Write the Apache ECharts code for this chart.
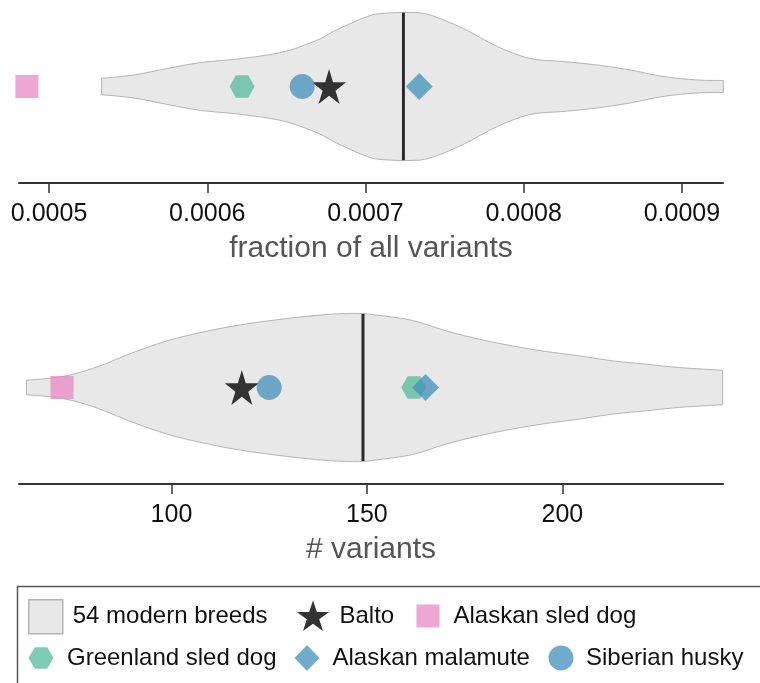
<!DOCTYPE html>
<html>
<head>
<meta charset="utf-8">
<script src="https://cdn.jsdelivr.net/npm/echarts@6/dist/echarts.min.js"></script>
<style>
  html, body { margin: 0; padding: 0; background: #fff; }
  #chart { width: 760px; height: 683px; }
</style>
</head>
<body>
<div id="chart"></div>
<script>
// Violin outline of the 54 modern breeds: fraction of all variants
const fractionGrid = [0.0005332, 0.0005534, 0.0005748, 0.0005957, 0.0006165, 0.0006380, 0.0006525,
  0.0006696, 0.0006797, 0.0006904, 0.0007011, 0.0007094, 0.0007283, 0.0007409, 0.0007618,
  0.0007833, 0.0008041, 0.0008249, 0.0008464, 0.0008673, 0.0008881, 0.0009096, 0.0009262];
const fractionDensity = [0.111, 0.155, 0.243, 0.324, 0.365, 0.426, 0.493,
  0.628, 0.743, 0.851, 0.946, 0.986, 1.0, 0.966, 0.784,
  0.541, 0.378, 0.338, 0.291, 0.223, 0.135, 0.088, 0.081];
const fractionMedian = 0.000724;
const fractionTicks = [0.0005, 0.0006, 0.0007, 0.0008, 0.0009];
const fractionRange = [0.000481, 0.000926];

// Violin outline of the 54 modern breeds: number of variants
const countGrid = [62.9, 68.9, 74.8, 81.7, 90.1, 98.8, 107.2, 115.7, 124.4, 132.8, 141.3, 148.2,
  153.3, 161.7, 170.4, 178.9, 187.3, 196.0, 204.4, 212.9, 221.6, 230.0, 241.0];
const countDensity = [0.098, 0.125, 0.179, 0.292, 0.471, 0.629, 0.740, 0.830, 0.898, 0.952, 0.992, 1.0,
  0.973, 0.906, 0.763, 0.650, 0.561, 0.485, 0.427, 0.359, 0.314, 0.269, 0.233];
const countMedian = 149;
const countTicks = [100, 150, 200];
const countRange = [61, 241.1];

// Individual dogs
const breedLabel = '54 modern breeds';
const dogNames = ['Alaskan sled dog', 'Greenland sled dog', 'Balto', 'Alaskan malamute', 'Siberian husky'];
const dogFraction = [0.000486, 0.000622, 0.000677, 0.000734, 0.000660];
const dogCount = [72, 162, 118, 165, 125];

const FONT = '"Liberation Sans", Arial, Helvetica, sans-serif';
const HALF = 0.967;   // violin half-width at peak density, in y-axis units

function starPath(cx, cy, R) {
  const r = R * 0.382;
  let d = '';
  for (let k = 0; k < 10; k++) {
    const a = -Math.PI / 2 + k * Math.PI / 5;
    const rad = k % 2 === 0 ? R : r;
    d += (k === 0 ? 'M' : 'L') + (cx + rad * Math.cos(a)).toFixed(2) + ',' + (cy + rad * Math.sin(a)).toFixed(2);
  }
  return d + 'Z';
}
function hexPath(cx, cy, R) {
  let d = '';
  for (let k = 0; k < 6; k++) {
    const a = k * Math.PI / 3;
    d += (k === 0 ? 'M' : 'L') + (cx + R * Math.cos(a)).toFixed(2) + ',' + (cy + R * Math.sin(a)).toFixed(2);
  }
  return d + 'Z';
}
// legend icons live inside a fixed 34x34 frame so each keeps its own size
const FRAME = 'M0,0M34,34';
const legendIcons = {
  'Balto': 'path://' + FRAME + starPath(17, 18.2, 17),
  'Alaskan sled dog': 'path://' + FRAME + 'M5.5,5.5L28.5,5.5L28.5,28.5L5.5,28.5Z',
  'Greenland sled dog': 'path://' + FRAME + hexPath(17, 17, 12.5),
  'Alaskan malamute': 'path://' + FRAME + 'M17,4L29.5,17L17,30L4.5,17Z',
  'Siberian husky': 'path://' + FRAME + 'M29.5,17A12.5,12.5,0,1,1,4.5,17A12.5,12.5,0,1,1,29.5,17Z'
};

const dogStyle = {
  'Alaskan sled dog':   { symbol: 'rect', size: [23, 23], color: '#e78ac3', opacity: 0.75 },
  'Greenland sled dog': { symbol: 'path://' + hexPath(0, 0, 1), size: [25, 22.5], color: '#5bbd9d', opacity: 0.78 },
  'Balto':              { symbol: 'path://' + starPath(0, 0, 1), size: [34, 35], color: '#333333', opacity: 1 },
  'Alaskan malamute':   { symbol: 'diamond', size: [27, 27], color: '#4390bb', opacity: 0.75 },
  'Siberian husky':     { symbol: 'circle', size: 25, color: '#4390bb', opacity: 0.75 }
};

function densityAt(grid, dens, v) {
  for (let i = 1; i < grid.length; i++) {
    if (v <= grid[i]) {
      const t = (v - grid[i - 1]) / (grid[i] - grid[i - 1]);
      return dens[i - 1] + t * (dens[i] - dens[i - 1]);
    }
  }
  return dens[dens.length - 1];
}

// smooth curve through the points (Catmull-Rom as cubic Bezier segments)
function curveThrough(pts, start) {
  let d = start ? 'M' + pts[0][0] + ',' + pts[0][1] : 'L' + pts[0][0] + ',' + pts[0][1];
  for (let i = 0; i < pts.length - 1; i++) {
    const p0 = pts[Math.max(i - 1, 0)], p1 = pts[i], p2 = pts[i + 1], p3 = pts[Math.min(i + 2, pts.length - 1)];
    const c1 = [p1[0] + (p2[0] - p0[0]) / 6, p1[1] + (p2[1] - p0[1]) / 6];
    const c2 = [p2[0] - (p3[0] - p1[0]) / 6, p2[1] - (p3[1] - p1[1]) / 6];
    d += 'C' + c1[0] + ',' + c1[1] + ',' + c2[0] + ',' + c2[1] + ',' + p2[0] + ',' + p2[1];
  }
  return d;
}

function violinRenderer(grid, dens, median) {
  return function (params, api) {
    const upper = grid.map((v, i) => api.coord([v, dens[i] * HALF]));
    const lower = grid.map((v, i) => api.coord([v, -dens[i] * HALF])).reverse();
    const outline = curveThrough(upper, true) + curveThrough(lower, false) + 'Z';
    const dm = densityAt(grid, dens, median) * HALF;
    const a = api.coord([median, dm]);
    const b = api.coord([median, -dm]);
    return {
      type: 'group',
      children: [
        { type: 'path', shape: { pathData: outline },
          style: { fill: '#e8e8e8', stroke: '#b4b4b4', lineWidth: 1 } },
        { type: 'line', shape: { x1: a[0], y1: a[1], x2: b[0], y2: b[1] },
          style: { stroke: '#2a2a2a', lineWidth: 3 } }
      ]
    };
  };
}

function makeXAxis(idx, range, ticks, name, fmt) {
  return {
    type: 'value', gridIndex: idx, min: range[0], max: range[1],
    name: name, nameLocation: 'middle', nameGap: 51,
    nameTextStyle: { fontSize: 30, color: '#555', fontFamily: FONT },
    axisLine: { show: true, onZero: false, lineStyle: { color: '#333', width: 2 } },
    axisTick: { show: true, length: 10, customValues: ticks, lineStyle: { color: '#333', width: 1.5 } },
    axisLabel: { fontSize: 25, color: '#111', margin: 19, fontFamily: FONT, customValues: ticks, formatter: fmt },
    splitLine: { show: false }
  };
}
function makeYAxis(idx) {
  return { type: 'value', gridIndex: idx, min: -1.262, max: 1, show: false, splitLine: { show: false } };
}

const series = [
  { type: 'custom', name: breedLabel, xAxisIndex: 0, yAxisIndex: 0, data: [[fractionMedian, 0]],
    encode: { x: 0, y: 1 }, renderItem: violinRenderer(fractionGrid, fractionDensity, fractionMedian),
    itemStyle: { color: '#e8e8e8' }, silent: true },
  { type: 'custom', name: breedLabel, xAxisIndex: 1, yAxisIndex: 1, data: [[countMedian, 0]],
    encode: { x: 0, y: 1 }, renderItem: violinRenderer(countGrid, countDensity, countMedian),
    itemStyle: { color: '#e8e8e8' }, silent: true }
];
[dogFraction, dogCount].forEach((vals, p) => {
  dogNames.forEach((name, i) => {
    const s = dogStyle[name];
    series.push({
      type: 'scatter', name: name, xAxisIndex: p, yAxisIndex: p,
      data: [[vals[i], 0]], symbol: s.symbol, symbolSize: s.size,
      itemStyle: { color: s.color, opacity: s.opacity }, emphasis: { disabled: true }, z: 3
    });
  });
});

function legendItem(name, left, top, width, icon, style) {
  return {
    left: left, top: top, padding: 0, itemWidth: width, itemHeight: 34, selectedMode: false,
    symbolKeepAspect: true,
    textStyle: { fontSize: 24, color: '#111', fontFamily: FONT },
    data: [{ name: name, icon: icon, itemStyle: style }]
  };
}
const legends = [
  legendItem(breedLabel, 28, 599, 44, 'path://M0,0L34,0L34,34L0,34Z',
    { color: '#e8e8e8', borderColor: '#b4b4b4', borderWidth: 1.5 }),
  legendItem('Balto', 296, 599, 43, legendIcons['Balto'], { color: '#333333', borderWidth: 0 }),
  legendItem('Alaskan sled dog', 411, 599, 41, legendIcons['Alaskan sled dog'], { color: '#e78ac3', opacity: 0.75, borderWidth: 0 }),
  legendItem('Greenland sled dog', 24, 641, 42, legendIcons['Greenland sled dog'], { color: '#5bbd9d', opacity: 0.78, borderWidth: 0 }),
  legendItem('Alaskan malamute', 290, 641, 41, legendIcons['Alaskan malamute'], { color: '#4390bb', opacity: 0.75, borderWidth: 0 }),
  legendItem('Siberian husky', 544, 641, 40, legendIcons['Siberian husky'], { color: '#4390bb', opacity: 0.75, borderWidth: 0 })
];

const chart = echarts.init(document.getElementById('chart'), null, { renderer: 'canvas' });
chart.setOption({
  animation: false,
  backgroundColor: '#fff',
  grid: [
    { left: 19, right: 37, top: 10, height: 173 },
    { left: 19, right: 37, top: 311, height: 173 }
  ],
  xAxis: [
    makeXAxis(0, fractionRange, fractionTicks, 'fraction of all variants', v => v.toFixed(4)),
    makeXAxis(1, countRange, countTicks, '# variants', v => String(Math.round(v)))
  ],
  yAxis: [makeYAxis(0), makeYAxis(1)],
  legend: legends,
  graphic: [{
    type: 'rect', left: 15, top: 584, silent: true,
    shape: { width: 760, height: 120 },
    style: { fill: 'none', stroke: '#555', lineWidth: 1.5 }
  }],
  series: series
});
</script>
</body>
</html>
